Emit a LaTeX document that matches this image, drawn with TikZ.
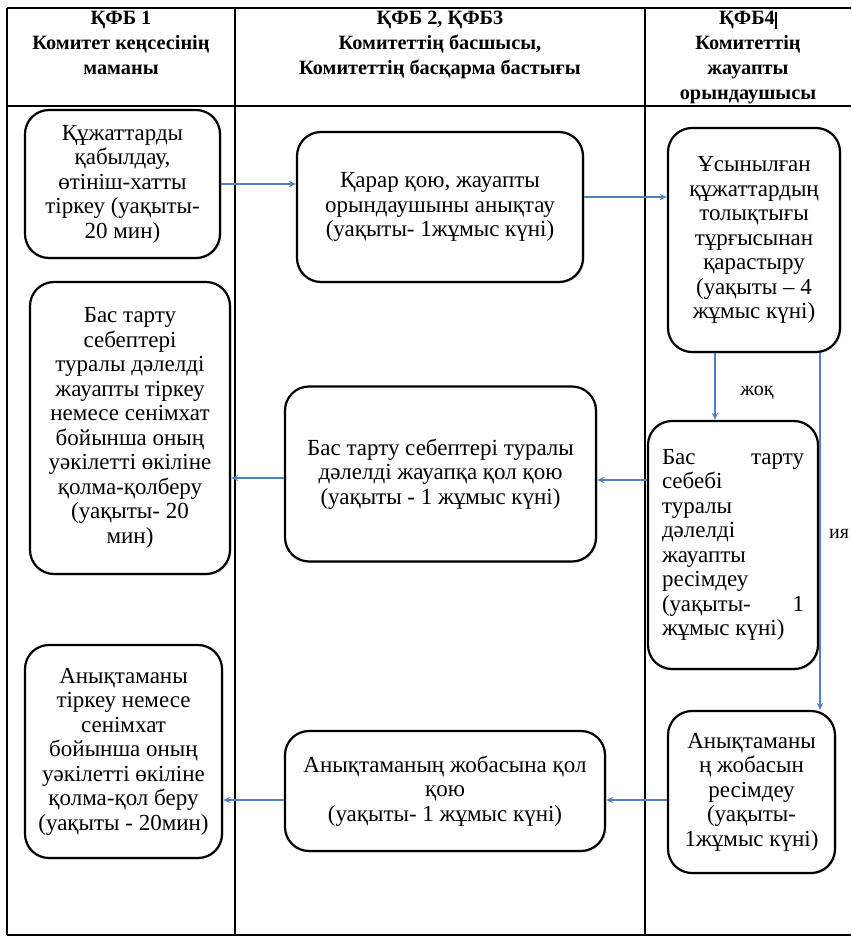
\documentclass[tikz,border=0pt]{standalone}
\usepackage{fontspec}
\setmainfont{Liberation Serif}
\usetikzlibrary{calc,arrows.meta,shadows}
\definecolor{arrblue}{RGB}{79,129,189}
\newcommand{\bodysize}{\fontsize{23}{24.5}\selectfont}
\begin{document}
\begin{tikzpicture}[x=1pt,y=-1pt,
  box/.style={draw=black,line width=2.2pt,rounded corners=24pt,align=center,
    font=\bodysize,inner sep=0pt,fill=white,
    drop shadow={opacity=0.25,shadow xshift=1.5pt,shadow yshift=-1.5pt}},
  arr/.style={draw=arrblue,line width=1.3pt,-{Stealth[length=7pt,width=6pt]}},
  hdr/.style={align=center,font=\bfseries\fontsize{20.3}{25}\selectfont,anchor=north,inner sep=0pt},
  tbl/.style={draw=black,line width=1.5pt},
  lbl/.style={font=\fontsize{20}{22}\selectfont,inner sep=0pt}]
\useasboundingbox (0,0) rectangle (851,947);

% table
\draw[tbl] (7,8) -- (851,8);
\draw[tbl] (7,106) -- (851,106);
\draw[tbl] (7,935) -- (851,935);
\draw[tbl] (7,8) -- (7,935);
\draw[tbl] (235,8) -- (235,935);
\draw[tbl] (645,8) -- (645,935);

% headers
\node[hdr] (h1) at (121,11) {ҚФБ 1\\Комитет кеңсесінің\\маманы};
\node[hdr] (h2) at (440,11) {ҚФБ 2, ҚФБ3\\Комитеттің басшысы,\\Комитеттің басқарма бастығы};
\node[hdr] (h3) at (748,11) {ҚФБ4\rule[-4pt]{2pt}{17pt}\\Комитеттің\\жауапты\\орындаушысы};

% boxes
\node[box,minimum width=195pt,minimum height=148pt] (b1) at (122.5,184)
  {Құжаттарды\\қабылдау,\\өтініш-хатты\\тіркеу (уақыты-\\20 мин)};
\node[box,minimum width=286pt,minimum height=150pt] (b2) at (440,207)
  {Қарар қою, жауапты\\орындаушыны анықтау\\(уақыты- 1жұмыс күні)};
\node[box,minimum width=172pt,minimum height=224pt] (b3) at (754,240)
  {Ұсынылған\\құжаттардың\\толықтығы\\тұрғысынан\\қарастыру\\(уақыты – 4\\жұмыс күні)};
\node[box,minimum width=200pt,minimum height=292pt] (b4) at (130,428)
  {Бас тарту\\себептері\\туралы дәлелді\\жауапты тіркеу\\немесе сенімхат\\бойынша оның\\уәкілетті өкіліне\\қолма-қолберу\\(уақыты- 20\\мин)};
\node[box,minimum width=311pt,minimum height=175pt] (b5) at (440.5,474)
  {Бас тарту себептері туралы\\дәлелді жауапқа қол қою\\(уақыты - 1 жұмыс күні)};
\node[box,minimum width=170pt,minimum height=248pt] (b6) at (733,545)
  {\parbox{142pt}{\setlength\parindent{0pt}\bodysize
   Бас\hfill тарту\\себебі\\туралы\\дәлелді\\жауапты\\ресімдеу\\(уақыты-\hfill 1\\жұмыс күні)}};
\node[box,minimum width=197pt,minimum height=213pt] (b7) at (123.5,751.5)
  {Анықтаманы\\тіркеу немесе\\сенімхат\\бойынша оның\\уәкілетті өкіліне\\қолма-қол беру\\(уақыты - 20мин)};
\node[box,minimum width=320pt,minimum height=120pt] (b8) at (445,791)
  {Анықтаманың жобасына қол\\қою\\(уақыты- 1 жұмыс күні)};
\node[box,minimum width=167pt,minimum height=162pt] (b9) at (751.5,792)
  {Анықтаманы\\ң жобасын\\ресімдеу\\(уақыты-\\1жұмыс күні)};

% helper coordinates for connector lines
\coordinate (p23) at ($(b2.east)+(0,-10)$);
\coordinate (c1) at (715,0);
\coordinate (c2) at (820,0);
\coordinate (r1) at (0,480);
\coordinate (r2) at (0,478);
\coordinate (r3) at (0,800);

% connectors
\draw[arr] (b1.east) -- (b1.east -| b2.west);
\draw[arr] (p23) -- (p23 -| b3.west);
\draw[arr] (b3.south -| c1) -- (b6.north -| c1);
\draw[arr] (b3.south -| c2) -- (b9.north -| c2);
\draw[arr] (b6.west |- r1) -- (b5.east |- r1);
\draw[arr] (b5.west |- r2) -- (b4.east |- r2);
\draw[arr] (b9.west |- r3) -- (b8.east |- r3);
\draw[arr] (b8.west |- r3) -- (b7.east |- r3);

% labels
\node[lbl] (no) at (757,393) {жоқ};
\node[lbl] (yes) at (839,534) {ия};
\end{tikzpicture}
\end{document}
